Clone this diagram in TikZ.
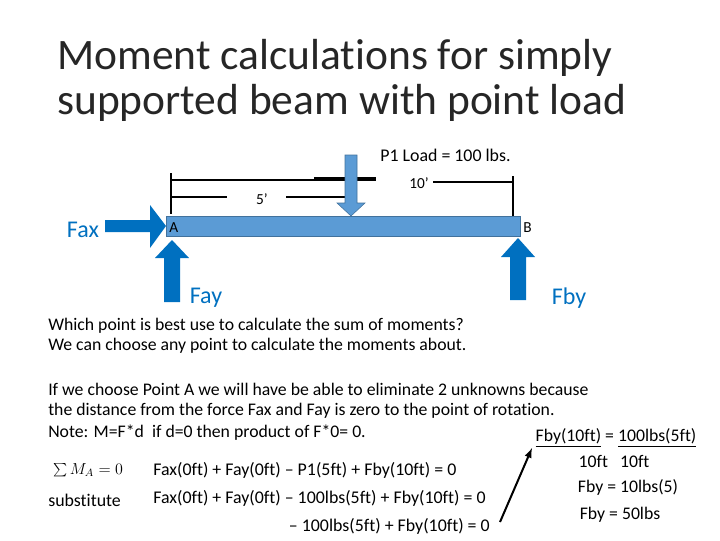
\documentclass[tikz,border=0pt]{standalone}
\usepackage{fontspec}
\setmainfont{Carlito}[Ligatures=NoCommon]
\begin{document}
\begin{tikzpicture}[x=0.75pt,y=-0.75pt,
  txt/.style={anchor=west,inner sep=0pt,font=\fontsize{13.3}{15}\selectfont},
  eq/.style={inner sep=0pt,font=\fontsize{13.4}{15}\selectfont},
  sm/.style={inner sep=0pt,font=\fontsize{11.5}{13}\selectfont},
  lbl/.style={inner sep=0pt,font=\fontsize{18}{20}\selectfont,text=fblue},
  dim/.style={line width=1.6pt,black}]
\definecolor{fblue}{HTML}{0070C0}
\definecolor{bblue}{HTML}{5B9BD5}
\definecolor{bedge}{HTML}{41719C}
\useasboundingbox (0,0) rectangle (720,540);
% title
\node[anchor=west,inner sep=0pt,font=\fontsize{32.6}{36}\selectfont,text=black!85] (t1) at (57,58) {Moment calculations for simply};
\node[anchor=west,inner sep=0pt,font=\fontsize{32.6}{36}\selectfont,text=black!85] (t2) at (57,103) {supported beam with point load};
% dimension lines
\draw[dim] (171,173) -- (171,214);
\draw[dim] (171,180) -- (376,180);
\draw[dim] (314,178) -- (376,178);
\draw[dim] (433,182) -- (513,182);
\draw[dim] (513,176) -- (513,216);
\draw[dim] (171,197) -- (227,197);
\draw[dim] (286,197) -- (348,197);
\node[sm] (d5) at (262,199) {5'};
\node[sm] (d10) at (419,183) {10'};
% beam
\draw[fill=bblue,draw=bedge] (166,216) rectangle (520,236);
\node[sm,anchor=west] (A) at (169,228) {A};
\node[sm,anchor=east] (B) at (532,228) {B};
% load arrow
\draw[fill=bblue,draw=bedge] (345,155) -- (357,155) -- (357,203) -- (365,203) -- (351,216) -- (337,203) -- (345,203) -- cycle;
\node[eq,anchor=west] (P) at (380,155) {P1 Load = 100 lbs.};
% Fax
\fill[fblue] (105,220) -- (150,220) -- (150,205) -- (166,226) -- (150,248) -- (150,232) -- (105,232) -- cycle;
\node[lbl] (fax) at (83,230) {Fax};
% Fay
\fill[fblue] (164,302) -- (164,258) -- (155,258) -- (172,240) -- (189,258) -- (180,258) -- (180,302) -- cycle;
\node[lbl] (fay) at (206,298) {Fay};
% Fby
\fill[fblue] (510,300) -- (510,257) -- (501,257) -- (518,238) -- (535,257) -- (526,257) -- (526,300) -- cycle;
\node[lbl] (fby) at (569,298) {Fby};
% text
\node[txt] (q1) at (48,326) {Which point is best use to calculate the sum of moments?};
\node[txt] (q2) at (48,346) {We can choose any point to calculate the moments about.};
\node[txt] (p1) at (48,389) {If we choose Point A we will have be able to eliminate 2 unknowns because};
\node[txt] (p2) at (48,411) {the distance from the force Fax and Fay is zero to the point of rotation.};
\node[txt] (p3) at (48,433) {Note: M=F*d\ \ if d=0 then product of F*0= 0.};
% equations
\node[sm] (sum) at (88,470) {$\sum M_A = 0$};
\node[eq,anchor=west] (e1) at (153,470) {Fax(0ft) + Fay(0ft) -- P1(5ft) + Fby(10ft) = 0};
\node[eq,anchor=west] (sub) at (48,500) {substitute};
\node[eq,anchor=west] (e2) at (153,498) {Fax(0ft) + Fay(0ft) -- 100lbs(5ft) + Fby(10ft) = 0};
\node[eq,anchor=east] (e3) at (490,526) {-- 100lbs(5ft) + Fby(10ft) = 0};
\node[txt,anchor=center] (r1) at (616,438) {\underline{Fby(10ft)} = \underline{100lbs(5ft)}};
\node[txt,anchor=center] (r2) at (614,461) {10ft\ \ \ 10ft};
\node[txt,anchor=center] (r3) at (628,487) {Fby = 10lbs(5)};
\node[txt,anchor=center] (r4) at (620,515) {Fby = 50lbs};
\coordinate (as) at (500,522);
\coordinate (ae) at (532,448);
\draw[line width=1.5pt,-latex] (as) -- (ae);
\end{tikzpicture}
\end{document}
